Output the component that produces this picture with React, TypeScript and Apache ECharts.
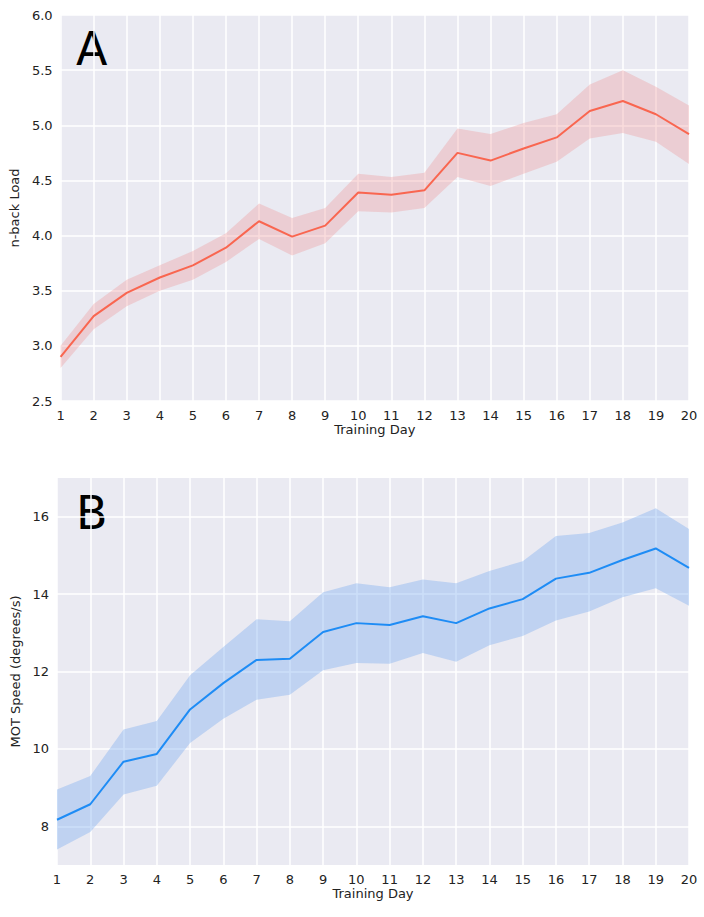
import React, { useEffect, useRef } from "react";
import * as echarts from "echarts";

const days = ["1","2","3","4","5","6","7","8","9","10","11","12","13","14","15","16","17","18","19","20"];

const nbackMean = [2.9, 3.27, 3.48, 3.62, 3.73, 3.89, 4.13, 3.99, 4.09, 4.39, 4.37, 4.41, 4.75, 4.68, 4.79, 4.89, 5.13, 5.22, 5.1, 4.92];
const nbackUpper = [3.0, 3.38, 3.6, 3.73, 3.86, 4.02, 4.29, 4.16, 4.25, 4.56, 4.53, 4.57, 4.97, 4.92, 5.02, 5.1, 5.37, 5.5, 5.35, 5.18];
const nbackLower = [2.8, 3.15, 3.36, 3.5, 3.6, 3.76, 3.97, 3.82, 3.93, 4.22, 4.21, 4.25, 4.53, 4.45, 4.56, 4.67, 4.88, 4.93, 4.85, 4.65];

const motMean = [8.17, 8.57, 9.67, 9.87, 11.02, 11.7, 12.3, 12.33, 13.02, 13.25, 13.2, 13.43, 13.25, 13.63, 13.87, 14.4, 14.55, 14.88, 15.18, 14.68];
const motUpper = [8.95, 9.3, 10.5, 10.72, 11.9, 12.63, 13.35, 13.3, 14.05, 14.28, 14.18, 14.38, 14.28, 14.6, 14.85, 15.5, 15.58, 15.85, 16.22, 15.68];
const motLower = [7.4, 7.85, 8.82, 9.05, 10.15, 10.78, 11.27, 11.4, 12.03, 12.22, 12.2, 12.48, 12.25, 12.68, 12.92, 13.32, 13.55, 13.92, 14.15, 13.7];

const FONT = "DejaVu Sans";

const App = () => {
  const ref = useRef<HTMLDivElement>(null);

  useEffect(() => {
    document.body.style.margin = "0";
    if (!ref.current) return;
    const chart = echarts.init(ref.current, null, { renderer: "svg" });

    const xAxis = (gridIndex: number) => ({
      type: "category",
      gridIndex,
      data: days,
      boundaryGap: false,
      name: "Training Day",
      nameLocation: "middle",
      nameGap: 22,
      nameTextStyle: { color: "#222", fontSize: 13, fontFamily: FONT },
      axisLine: { show: false },
      axisTick: { show: false },
      axisLabel: { color: "#222", fontSize: 13, fontFamily: FONT, margin: 8 },
      splitLine: { show: true, lineStyle: { color: "#fff", width: 1.5 } },
    });

    chart.setOption({
      animation: false,
      grid: [
        { left: 57, right: 15, top: 15, height: 386, backgroundColor: "#eaeaf2", show: true, borderWidth: 0 },
        { left: 57, right: 15, top: 478, height: 387, backgroundColor: "#eaeaf2", show: true, borderWidth: 0 },
      ],
      xAxis: [xAxis(0), xAxis(1)],
      yAxis: [
        {
          type: "value", gridIndex: 0, min: 2.5, max: 6, interval: 0.5,
          name: "n-back Load", nameLocation: "middle", nameGap: 36,
          nameTextStyle: { color: "#222", fontSize: 13, fontFamily: FONT },
          axisLine: { show: false }, axisTick: { show: false },
          axisLabel: { color: "#222", fontSize: 13, fontFamily: FONT, formatter: (v: number) => v.toFixed(1) },
          splitLine: { lineStyle: { color: "#fff", width: 1.5 } },
        },
        {
          type: "value", gridIndex: 1, min: 7, max: 17, interval: 1,
          name: "MOT Speed (degrees/s)", nameLocation: "middle", nameGap: 30,
          nameTextStyle: { color: "#222", fontSize: 13, fontFamily: FONT },
          axisLine: { show: false }, axisTick: { show: false },
          axisLabel: { color: "#222", fontSize: 13, fontFamily: FONT, formatter: (v: number) => (v % 2 === 0 ? String(v) : "") },
          splitLine: { lineStyle: { color: ["transparent", "#fff"], width: 1.5 } },
        },
      ],
      graphic: [
        { type: "text", left: 76, top: 26, style: { text: "A", fontSize: 46, fontFamily: FONT, fill: "#000" } },
        { type: "text", left: 76, top: 490, style: { text: "B", fontSize: 46, fontFamily: FONT, fill: "#000" } },
      ],
      series: [
        { type: "line", xAxisIndex: 0, yAxisIndex: 0, stack: "a", data: nbackLower, symbol: "none", lineStyle: { opacity: 0 }, silent: true },
        { type: "line", xAxisIndex: 0, yAxisIndex: 0, stack: "a", data: nbackUpper.map((u, i) => +(u - nbackLower[i]).toFixed(3)), symbol: "none", lineStyle: { opacity: 0 }, areaStyle: { color: "rgba(240,140,140,0.3)", opacity: 1 }, silent: true },
        { type: "line", xAxisIndex: 0, yAxisIndex: 0, data: nbackMean, symbol: "none", lineStyle: { color: "#f96650", width: 2 } },
        { type: "line", xAxisIndex: 1, yAxisIndex: 1, stack: "b", data: motLower, symbol: "none", lineStyle: { opacity: 0 }, silent: true },
        { type: "line", xAxisIndex: 1, yAxisIndex: 1, stack: "b", data: motUpper.map((u, i) => +(u - motLower[i]).toFixed(3)), symbol: "none", lineStyle: { opacity: 0 }, areaStyle: { color: "rgba(120,170,240,0.38)", opacity: 1 }, silent: true },
        { type: "line", xAxisIndex: 1, yAxisIndex: 1, data: motMean, symbol: "none", lineStyle: { color: "#1e8cf5", width: 2 } },
      ],
    });
    return () => chart.dispose();
  }, []);

  return <div ref={ref} style={{ width: 704, height: 917 }} />;
};

export default App;
